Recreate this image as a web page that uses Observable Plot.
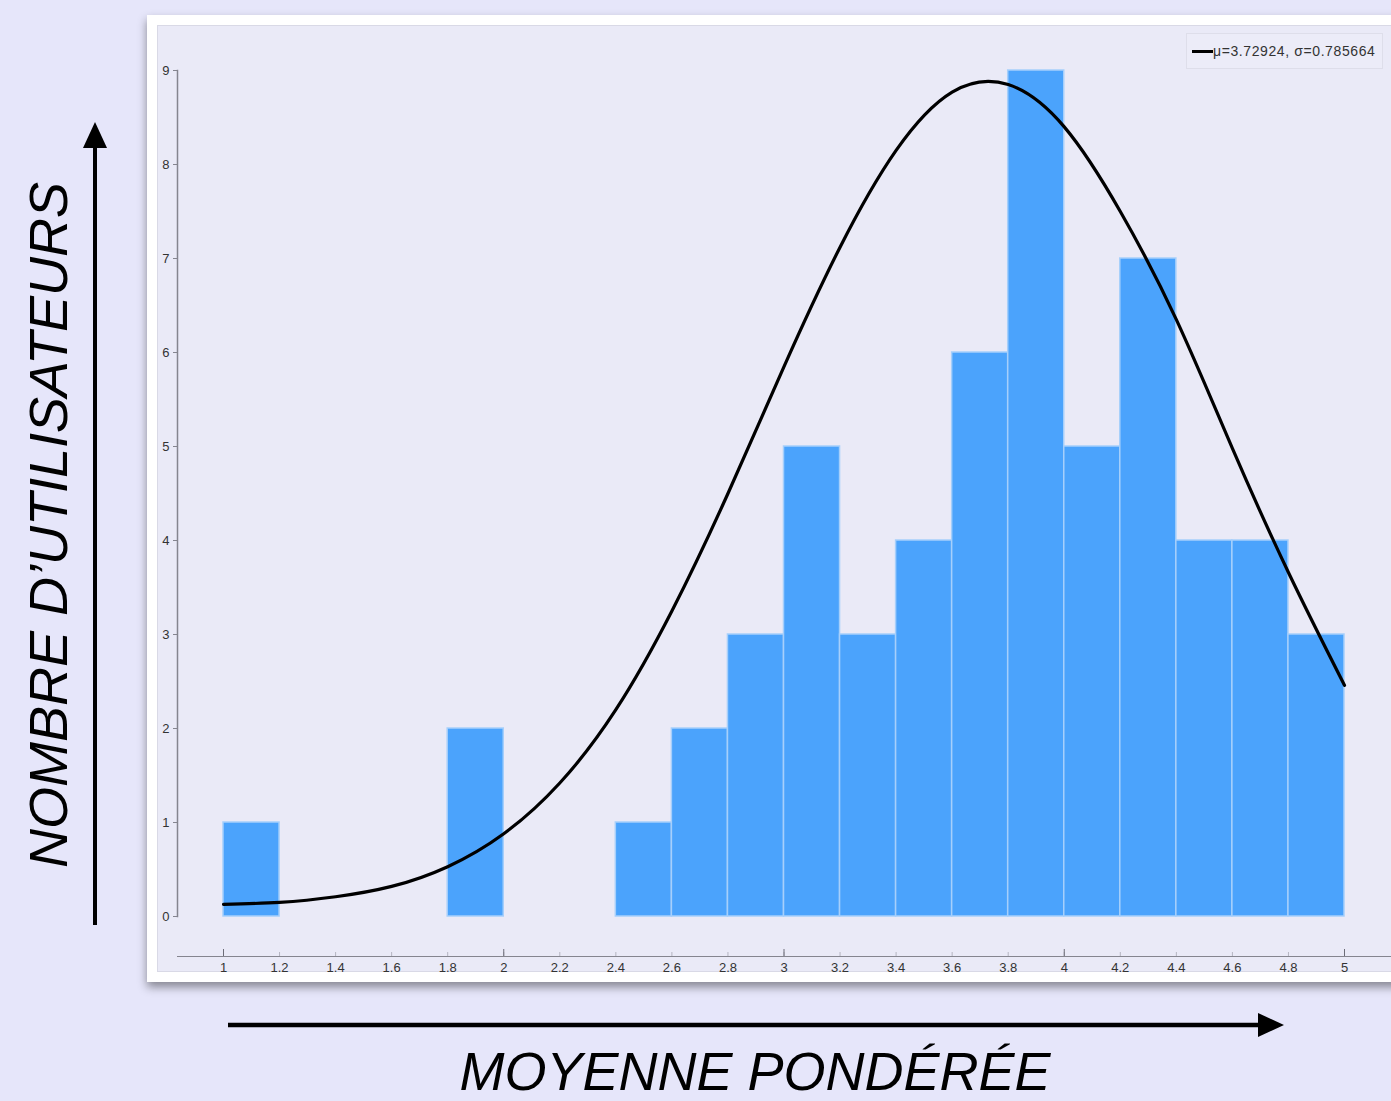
<!DOCTYPE html>
<html>
<head>
<meta charset="utf-8">
<script src="https://cdn.jsdelivr.net/npm/d3@7"></script>
<script src="https://cdn.jsdelivr.net/npm/@observablehq/plot@0.6"></script>
<style>
  html, body { margin: 0; padding: 0; background: #e6e6fa; overflow: hidden; }
  #page { position: relative; width: 1391px; height: 1101px; overflow: hidden; font-family: "Liberation Sans", Arial, sans-serif; }
  #deco { position: absolute; left: 0; top: 0; }
  #card { position: absolute; left: 147px; top: 15px; width: 1270px; height: 967px; background: #ffffff; box-shadow: 0 5px 9px rgba(0,0,0,0.42); }
  #inner { position: absolute; left: 157px; top: 25px; width: 1260px; height: 947px; background: #eaeaf7; border: 1px solid #d9d9e6; box-sizing: border-box; }
  #chart { position: absolute; left: 157px; top: 25px; }
  #legend { position: absolute; left: 1186px; top: 33px; width: 197px; height: 36px; background: #ececf8; border: 1px solid #dedeea; box-sizing: border-box; }
  #legend .swatch { position: absolute; left: 5px; top: 16px; width: 21px; height: 3px; background: #000; }
  #legend .txt { position: absolute; left: 26px; top: 9px; font-size: 14px; letter-spacing: 0.6px; line-height: 16px; color: #333; white-space: nowrap; }
</style>
</head>
<body>
<div id="page">
  <svg id="deco" width="1391" height="1101">
    <text x="67" y="525" transform="rotate(-90 67 525)" text-anchor="middle" font-family="Liberation Sans, Arial, sans-serif" font-style="italic" font-size="54" fill="#000">NOMBRE D’UTILISATEURS</text>
    <text x="755" y="1090" text-anchor="middle" font-family="Liberation Sans, Arial, sans-serif" font-style="italic" font-size="54" fill="#000">MOYENNE PONDÉRÉE</text>
    <line x1="95" y1="925" x2="95" y2="145" stroke="#000" stroke-width="4"/>
    <polygon points="83,148 107,148 95,122" fill="#000"/>
    <line x1="228" y1="1025" x2="1260" y2="1025" stroke="#000" stroke-width="4.5"/>
    <polygon points="1258,1013 1258,1037 1284,1025" fill="#000"/>
  </svg>
  <div id="card"></div>
  <div id="inner"></div>
  <div id="chart"></div>
  <div id="legend"><div class="swatch"></div><div class="txt" id="legendText"></div></div>
</div>
<script>
// ---- data ----
const binStart = [1.0, 1.2, 1.4, 1.6, 1.8, 2.0, 2.2, 2.4, 2.6, 2.8, 3.0, 3.2, 3.4, 3.6, 3.8, 4.0, 4.2, 4.4, 4.6, 4.8];
const binEnd   = [1.2, 1.4, 1.6, 1.8, 2.0, 2.2, 2.4, 2.6, 2.8, 3.0, 3.2, 3.4, 3.6, 3.8, 4.0, 4.2, 4.4, 4.6, 4.8, 5.0];
const counts   = [1, 0, 0, 0, 2, 0, 0, 1, 2, 3, 5, 3, 4, 6, 9, 5, 7, 4, 4, 3];

const curveX = [1.0, 1.2, 1.4, 1.6, 1.8, 2.0, 2.2, 2.4, 2.6, 2.8, 3.0, 3.2, 3.4, 3.6, 3.8, 4.0, 4.2, 4.4, 4.6, 4.8, 5.0];
const curveY = [0.13, 0.15, 0.21, 0.32, 0.53, 0.88, 1.42, 2.20, 3.25, 4.50, 5.85, 7.12, 8.15, 8.77, 8.85, 8.40, 7.50, 6.35, 4.98, 3.66, 2.46];

const xTicks = [1, 1.2, 1.4, 1.6, 1.8, 2, 2.2, 2.4, 2.6, 2.8, 3, 3.2, 3.4, 3.6, 3.8, 4, 4.2, 4.4, 4.6, 4.8, 5];
const xMajorTicks = [1, 2, 3, 4, 5];
const yTicks = [0, 1, 2, 3, 4, 5, 6, 7, 8, 9];

const legendLabel = "μ=3.72924, σ=0.785664";

// ---- tables built from the arrays ----
const bins = binStart.map((x1, i) => ({x1, x2: binEnd[i], count: counts[i]})).filter(d => d.count > 0);
const curve = curveX.map((x, i) => ({x, y: curveY[i]}));

document.getElementById("legendText").textContent = legendLabel;

const fmt = d => String(d);

const chart = Plot.plot({
  width: 1234,
  height: 948,
  marginLeft: 20,
  marginRight: 0,
  marginTop: 45,
  marginBottom: 17,
  x: {domain: [1, 5], range: [66, 1187], label: null},
  y: {domain: [0, 9], range: [891, 45], label: null},
  style: {background: "transparent", fontFamily: "Liberation Sans, Arial, sans-serif", fontSize: "13px", color: "#444", overflow: "visible"},
  marks: [
    Plot.frame({anchor: "left", stroke: "#85858f", strokeWidth: 1.5, insetBottom: 40}),
    Plot.frame({anchor: "bottom", stroke: "#85858f", strokeWidth: 1}),
    Plot.rectY(bins, {x1: "x1", x2: "x2", y: "count", fill: "#4ba3fc", stroke: "#a6cffb", strokeWidth: 1.5}),
    Plot.line(curve, {x: "x", y: "y", stroke: "#000", strokeWidth: 3.2, curve: "natural"}),
    Plot.axisY(yTicks, {anchor: "left", label: null, tickSize: 4, tickPadding: 4, tickFormat: fmt, fontSize: 13, stroke: "#85858f", fill: "#333"}),
    Plot.axisX(xTicks, {anchor: "bottom", label: null, tickSize: -4, tickPadding: 10, tickFormat: fmt, fontSize: 13, stroke: "#b4b4c0", fill: "#333"}),
    Plot.axisX(xMajorTicks, {anchor: "bottom", label: null, tickSize: -7, text: null, stroke: "#6d6d78"})
  ]
});
d3.select(chart).selectAll("text").style("font-size", "13px").style("font-family", "Liberation Sans, Arial, sans-serif");
document.getElementById("chart").appendChild(chart);
</script>
</body>
</html>
